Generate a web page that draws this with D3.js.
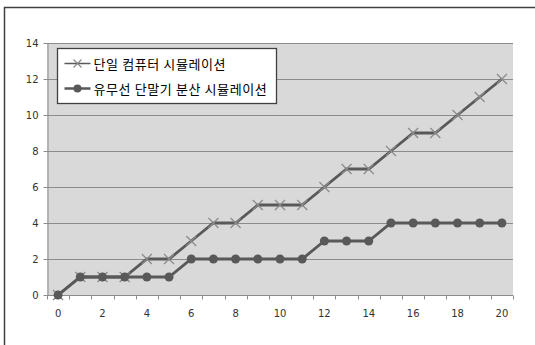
<!DOCTYPE html>
<html>
<head>
<meta charset="utf-8">
<script src="https://cdn.jsdelivr.net/npm/d3@7"></script>
<style>
  body { margin: 0; background: #fff; }
  svg { display: block; }
</style>
</head>
<body>
<div id="chart"></div>
<script>
const steps = d3.range(0, 21);
const xLabels = ["0", "2", "4", "6", "8", "10", "12", "14", "16", "18", "20"];
const yTicks = [0, 2, 4, 6, 8, 10, 12, 14];
const seriesNames = ["단일 컴퓨터 시뮬레이션", "유무선 단말기 분산 시뮬레이션"];
const singleValues = [0, 1, 1, 1, 2, 2, 3, 4, 4, 5, 5, 5, 6, 7, 7, 8, 9, 9, 10, 11, 12];
const distValues = [0, 1, 1, 1, 1, 1, 2, 2, 2, 2, 2, 2, 3, 3, 3, 4, 4, 4, 4, 4, 4];

const W = 535, H = 345;
const plot = { left: 47, right: 513, top: 43, bottom: 295 };
const lineColor = "#595959";

const svg = d3.select("#chart").append("svg")
    .attr("width", W)
    .attr("height", H);

// chart frame (runs off right/bottom edge)
svg.append("rect")
    .attr("x", 4.5).attr("y", 7.5)
    .attr("width", W + 10).attr("height", H + 10)
    .attr("fill", "#fff")
    .attr("stroke", "#404040")
    .attr("stroke-width", 1.5);

const xScale = d3.scaleBand()
    .domain(steps)
    .range([plot.left, plot.right]);

const yScale = d3.scaleLinear()
    .domain([0, 14])
    .range([plot.bottom, plot.top]);

const xPos = d => xScale(d) + xScale.bandwidth() / 2;

// plot background
svg.append("rect")
    .attr("x", plot.left).attr("y", plot.top)
    .attr("width", plot.right - plot.left).attr("height", plot.bottom - plot.top)
    .attr("fill", "#d9d9d9");

// gridlines
svg.append("g")
    .selectAll("line")
    .data(yTicks.filter(d => d > 0))
    .join("line")
    .attr("x1", plot.left).attr("x2", plot.right)
    .attr("y1", d => Math.round(yScale(d)) + 0.5)
    .attr("y2", d => Math.round(yScale(d)) + 0.5)
    .attr("stroke", "#8c8c8c");

// y axis
const yAxis = svg.append("g")
    .attr("transform", `translate(${plot.left + 0.5},0)`)
    .call(d3.axisLeft(yScale).tickValues(yTicks).tickSize(4).tickPadding(5).tickSizeOuter(0));
yAxis.select(".domain").attr("stroke", "#8c8c8c");
yAxis.selectAll(".tick line").attr("stroke", "#8c8c8c");
yAxis.selectAll("text")
    .attr("fill", "#333")
    .style("font-family", "'DejaVu Sans', sans-serif")
    .style("font-size", "10px");

// x axis: ticks at category boundaries, labels every other category
const xAxisG = svg.append("g")
    .attr("transform", `translate(0,${plot.bottom + 0.5})`);
xAxisG.append("line")
    .attr("x1", plot.left).attr("x2", plot.right)
    .attr("stroke", "#8c8c8c");
xAxisG.selectAll(".tk")
    .data(steps.concat([21]))
    .join("line")
    .attr("class", "tk")
    .attr("x1", d => Math.round(d < 21 ? xScale(d) : plot.right) + 0.5)
    .attr("x2", d => Math.round(d < 21 ? xScale(d) : plot.right) + 0.5)
    .attr("y1", 0).attr("y2", 4)
    .attr("stroke", "#8c8c8c");
xAxisG.selectAll("text")
    .data(xLabels)
    .join("text")
    .attr("x", d => xPos(+d))
    .attr("y", 21)
    .attr("text-anchor", "middle")
    .attr("fill", "#333")
    .style("font-family", "'DejaVu Sans', sans-serif")
    .style("font-size", "10px")
    .text(d => d);

const line = d3.line()
    .x((d, i) => xPos(steps[i]))
    .y(d => yScale(d));

// series 1: x markers
svg.append("path")
    .datum(singleValues)
    .attr("fill", "none")
    .attr("stroke", lineColor)
    .attr("stroke-width", 2.8)
    .attr("d", line);

const xMark = 5;
svg.append("g")
    .selectAll("path")
    .data(singleValues)
    .join("path")
    .attr("d", (d, i) => {
        const cx = xPos(steps[i]), cy = yScale(d);
        return `M${cx - xMark},${cy - xMark}L${cx + xMark},${cy + xMark}M${cx - xMark},${cy + xMark}L${cx + xMark},${cy - xMark}`;
    })
    .attr("stroke", "#8a8a8a")
    .attr("stroke-width", 1.2);

// series 2: circle markers
svg.append("path")
    .datum(distValues)
    .attr("fill", "none")
    .attr("stroke", lineColor)
    .attr("stroke-width", 2.8)
    .attr("d", line);

svg.append("g")
    .selectAll("circle")
    .data(distValues)
    .join("circle")
    .attr("cx", (d, i) => xPos(steps[i]))
    .attr("cy", d => yScale(d))
    .attr("r", 4.5)
    .attr("fill", lineColor);

// legend
const legend = svg.append("g").attr("transform", "translate(57.5,48.5)");
legend.append("rect")
    .attr("width", 219).attr("height", 55)
    .attr("fill", "#fff")
    .attr("stroke", "#404040")
    .attr("stroke-width", 1.3);

const legendRows = legend.selectAll(".row")
    .data(seriesNames)
    .join("g")
    .attr("class", "row")
    .attr("transform", (d, i) => `translate(0,${15 + i * 25})`);

legendRows.append("line")
    .attr("x1", 7).attr("x2", 33)
    .attr("stroke", lineColor)
    .attr("stroke-width", (d, i) => i === 0 ? 1.5 : 2.5);

legendRows.filter((d, i) => i === 0).append("path")
    .attr("d", "M16,-4L24,4M16,4L24,-4")
    .attr("stroke", "#8a8a8a")
    .attr("stroke-width", 1.2);

legendRows.filter((d, i) => i === 1).append("circle")
    .attr("cx", 20).attr("r", 4)
    .attr("fill", lineColor);

legendRows.append("text")
    .attr("x", 36)
    .attr("y", 5)
    .attr("fill", "#000")
    .style("font-family", "'Noto Sans CJK KR', sans-serif")
    .style("font-size", "13px")
    .style("letter-spacing", "0.6px")
    .text(d => d);
</script>
</body>
</html>
